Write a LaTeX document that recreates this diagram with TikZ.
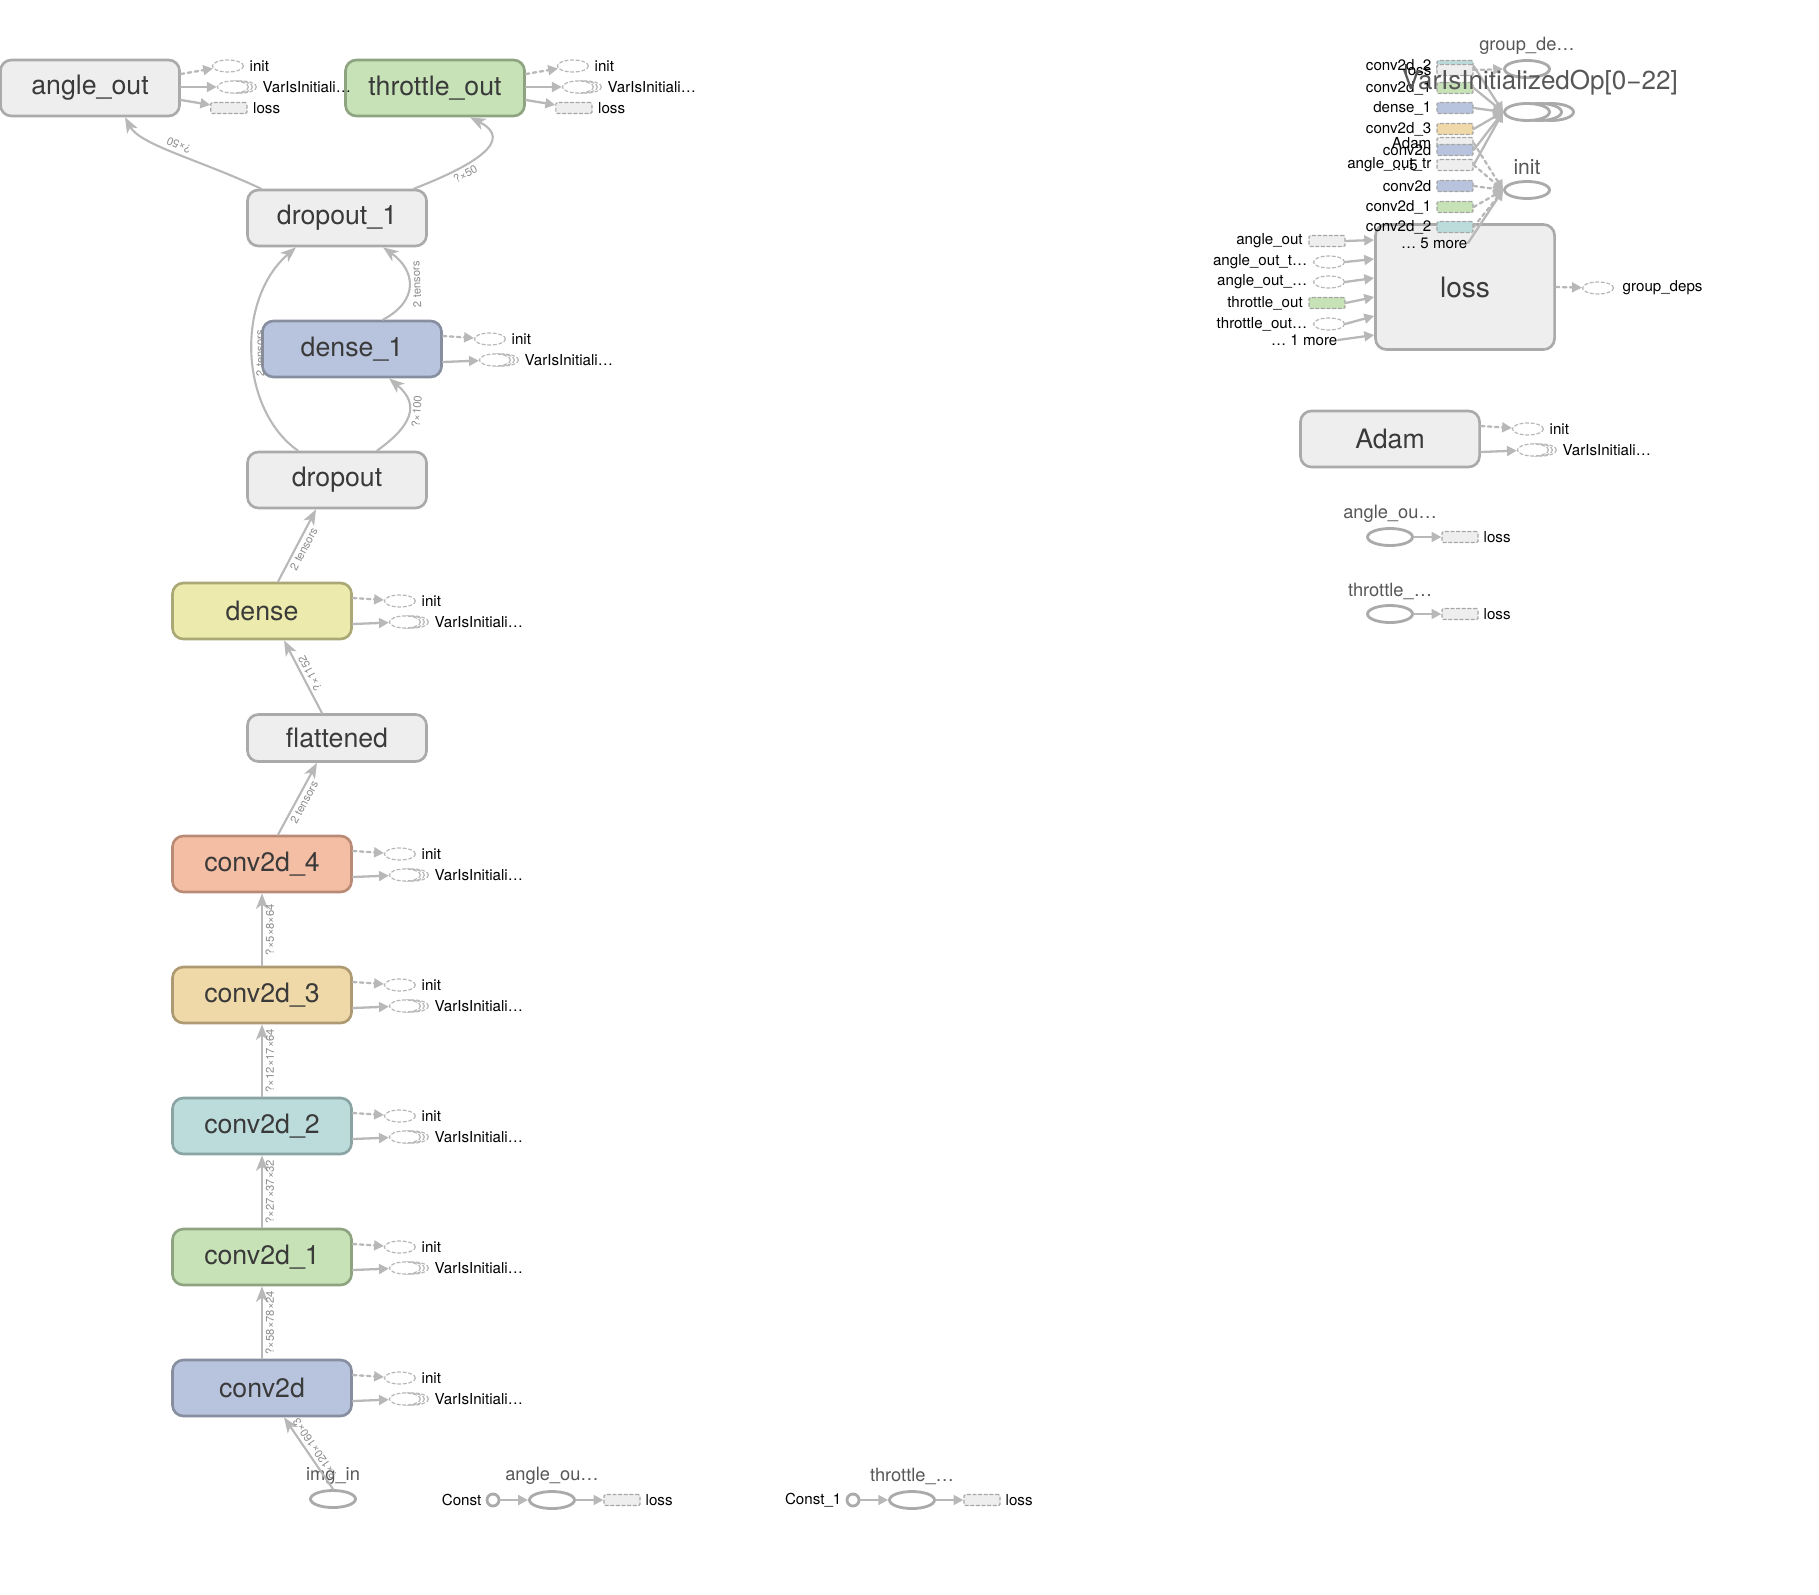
\documentclass[tikz,border=0pt]{standalone}
\usepackage{fontspec}
\setmainfont{TeX Gyre Heros}
\usetikzlibrary{arrows.meta,shapes.geometric}

\definecolor{gfill}{HTML}{EEEEEE}
\definecolor{gline}{HTML}{AAAAAA}
\definecolor{bfill}{HTML}{B8C4DD}
\definecolor{bline}{HTML}{868EA0}
\definecolor{grfill}{HTML}{C6E2B6}
\definecolor{grline}{HTML}{8EA380}
\definecolor{tfill}{HTML}{BCDCDC}
\definecolor{tline}{HTML}{8AA3A3}
\definecolor{ofill}{HTML}{F0D9A8}
\definecolor{oline}{HTML}{AD9A73}
\definecolor{sfill}{HTML}{F4BEA4}
\definecolor{sline}{HTML}{B98B76}
\definecolor{yfill}{HTML}{ECEBAD}
\definecolor{yline}{HTML}{AAA875}
\definecolor{edgegrey}{HTML}{B8B8B8}
\definecolor{optext}{HTML}{3A3A3A}

% init + VarIsInitiali... stubs beside an op box
\newcommand{\initvars}[5]{%
  \node[stub] (#1-init) at ([shift={(47,#2)}]#1.east) {};
  \node[satlbl] (#1-initlbl) at ([xshift=0.05cm]#1-init.east) {init};
  \foreach \s in {8,4}
    \node[stub] (#1-var\s) at ([shift={(52+\s,#3)}]#1.east) {};
  \node[stub] (#1-var) at ([shift={(52,#3)}]#1.east) {};
  \node[satlbl] (#1-varlbl) at ([xshift=0.13cm]#1-var.east) {VarIsInitiali…};
  \draw[ctrlarrow] ([shift={(0,#4)}]#1.east) -- (#1-init);
  \draw[inarrow] ([shift={(0,#5)}]#1.east) -- (#1-var);
}

\begin{document}
\begin{tikzpicture}[
    x=0.01cm, y=-0.01cm,
    line cap=round,
    op/.style 2 args={draw=#2, fill=#1, rounded corners=0.11cm, line width=0.75pt,
      minimum width=1.79cm, minimum height=0.56cm, inner sep=0pt, text=optext,
      font=\fontsize{7.6}{9}\selectfont},
    opgrey/.style={op={gfill}{gline}},
    opblue/.style={op={bfill}{bline}},
    opgreen/.style={op={grfill}{grline}},
    opteal/.style={op={tfill}{tline}},
    opsand/.style={op={ofill}{oline}},
    opsalmon/.style={op={sfill}{sline}},
    opyellow/.style={op={yfill}{yline}},
    dataflow/.style={draw=edgegrey, line width=0.6pt,
      -{Stealth[length=4.4pt,width=3.4pt,inset=1.2pt]}},
    shapelbl/.style={sloped, allow upside down, below=0.4pt, inner sep=0.3pt,
      font=\fontsize{3.2}{4}\selectfont, text=black!45},
    stub/.style={ellipse, draw=black!28, dash pattern=on 0.9pt off 0.7pt, line width=0.35pt,
      minimum width=0.31cm, minimum height=0.12cm, inner sep=0pt, fill=white},
    stubbox/.style={rectangle, draw=black!35, dash pattern=on 0.9pt off 0.7pt, line width=0.35pt,
      fill=#1, minimum width=0.36cm, minimum height=0.11cm, inner sep=0pt, rounded corners=0.4pt},
    satlbl/.style={anchor=west, inner sep=0pt, font=\fontsize{4.3}{5}\selectfont},
    ctrlarrow/.style={draw=edgegrey, line width=0.65pt, dash pattern=on 1pt off 1pt,
      -{Triangle[length=2.8pt,width=2.8pt]}},
    inarrow/.style={draw=edgegrey, line width=0.65pt, -{Triangle[length=2.8pt,width=2.8pt]}},
    const/.style={ellipse, draw=gline, line width=0.8pt, minimum width=0.45cm,
      minimum height=0.17cm, inner sep=0pt, fill=white},
    grplbl/.style={font=\fontsize{5.2}{6}\selectfont, text=optext!85, inner sep=0pt}
  ]
  \useasboundingbox (0,0) rectangle (1819,1594);

  % main stack
  \node[opgrey] (angleout) at (90,88) {angle\_out};
  \node[opgreen] (throttleout) at (435,88) {throttle\_out};
  \node[opgrey] (dropout1) at (337,218) {dropout\_1};
  \node[opblue] (dense1) at (352,349) {dense\_1};
  \node[opgrey] (dropout) at (337,480) {dropout};
  \node[opyellow] (dense) at (262,611) {dense};
  \node[opgrey, minimum height=0.47cm] (flattened) at (337,738) {flattened};
  \node[opsalmon] (conv4) at (262,864) {conv2d\_4};
  \node[opsand] (conv3) at (262,995) {conv2d\_3};
  \node[opteal] (conv2) at (262,1126) {conv2d\_2};
  \node[opgreen] (conv1) at (262,1257) {conv2d\_1};
  \node[opblue] (conv0) at (262,1388) {conv2d};
  \node[const] (imgin) at (333,1499) {};
  \node[grplbl] (imginlbl) at (333,1476) {img\_in};

  % tensors
  \draw[dataflow] (imgin.north) -- node[shapelbl] {?×120×160×3} ([xshift=0.22cm]conv0.south);
  \foreach \a/\b/\t in {conv0/conv1/?×58×78×24, conv1/conv2/?×27×37×32,
                        conv2/conv3/?×12×17×64, conv3/conv4/?×5×8×64}
    \draw[dataflow] (\a) -- node[shapelbl] {\t} (\b);
  \draw[dataflow] ([xshift=0.16cm]conv4.north) -- node[shapelbl] {2 tensors} ([xshift=-0.2cm]flattened.south);
  \draw[dataflow] ([xshift=-0.15cm]flattened.north) -- node[shapelbl] {?×1152} ([xshift=0.22cm]dense.south);
  \draw[dataflow] ([xshift=0.16cm]dense.north) -- node[shapelbl] {2 tensors} ([xshift=-0.21cm]dropout.south);
  \draw[dataflow] ([xshift=0.4cm]dropout.north) .. controls (420,420) and (415,400) ..
    node[shapelbl] {?×100} ([xshift=0.37cm]dense1.south);
  \draw[dataflow] ([xshift=-0.39cm]dropout.north) .. controls (240,410) and (235,300) ..
    node[shapelbl] {2 tensors} ([xshift=-0.41cm]dropout1.south);
  \draw[dataflow] ([xshift=0.31cm]dense1.north) .. controls (420,300) and (415,270) ..
    node[shapelbl] {2 tensors} ([xshift=0.46cm]dropout1.south);
  \draw[dataflow] ([xshift=-0.76cm]dropout1.north) .. controls (200,160) and (140,145) ..
    node[shapelbl] {?×50} ([xshift=0.35cm]angleout.south);
  \draw[dataflow] ([xshift=0.77cm]dropout1.north) .. controls (475,165) and (515,140) ..
    node[shapelbl, pos=0.3] {?×50} ([xshift=0.35cm]throttleout.south);

  % satellites
  \foreach \n in {dense1,dense,conv4,conv3,conv2,conv1,conv0} {
    \initvars{\n}{-10}{11}{-13}{13}
  }
  \foreach \n in {angleout,throttleout} {
    \initvars{\n}{-22}{-1}{-14}{-1}
    \node[stubbox=gfill] (\n-loss) at ([shift={(48,20)}]\n.east) {};
    \node[satlbl] (\n-losslbl) at ([xshift=0.05cm]\n-loss.east) {loss};
    \draw[inarrow] ([shift={(0,12)}]\n.east) -- (\n-loss);
  }

  % bottom constants
  \node[circle, draw=gline, line width=0.8pt, minimum size=0.12cm, inner sep=0pt] (const0) at (493,1500) {};
  \node[satlbl, anchor=east] (const0lbl) at (482,1500) {Const};
  \node[const] (anglecst) at (552,1500) {};
  \node[grplbl] (anglecstlbl) at (552,1476) {angle\_ou…};
  \node[stubbox=gfill] (anglecstloss) at (622,1500) {};
  \node[satlbl] (anglecstlosslbl) at (645,1500) {loss};
  \node[circle, draw=gline, line width=0.8pt, minimum size=0.12cm, inner sep=0pt] (const1) at (853,1500) {};
  \node[satlbl, anchor=east] (const1lbl) at (842,1500) {Const\_1};
  \node[const] (throttlecst) at (912,1500) {};
  \node[grplbl] (throttlecstlbl) at (912,1476) {throttle\_…};
  \node[stubbox=gfill] (throttlecstloss) at (982,1500) {};
  \node[satlbl] (throttlecstlosslbl) at (1005,1500) {loss};
  \draw[inarrow] (const0) -- (anglecst);
  \draw[inarrow] (anglecst) -- (anglecstloss);
  \draw[inarrow] (const1) -- (throttlecst);
  \draw[inarrow] (throttlecst) -- (throttlecstloss);

  % right side: loss
  \node[opgrey, minimum height=1.25cm, font=\fontsize{8}{9}\selectfont] (loss) at (1465,287) {loss};
  \node[stubbox=gfill] (lin1) at (1327,241) {};
  \node[stub] (lin2) at (1329,262) {};
  \node[stub] (lin3) at (1329,282) {};
  \node[stubbox=grfill] (lin4) at (1327,303) {};
  \node[stub] (lin5) at (1329,324) {};
  \node[satlbl, anchor=east] (lin6) at (1338,340) {… 1 more};
  \foreach \n/\t in {lin1/angle\_out, lin2/angle\_out\_t…, lin3/angle\_out\_…,
                     lin4/throttle\_out, lin5/throttle\_out…}
    \node[satlbl, anchor=east] (\n-lbl) at ([xshift=-0.05cm]\n.west) {\t};
  \foreach \n/\d in {lin1/-47, lin2/-28, lin3/-9, lin4/10, lin5/29, lin6/48}
    \draw[inarrow] (\n.east) -- ([shift={(0,\d)}]loss.west);
  \node[stub] (gdeps) at (1598,288) {};
  \node[satlbl] (gdepslbl) at (1622,288) {group\_deps};
  \draw[ctrlarrow] (loss.east) -- (gdeps);

  % right side: init / VarIsInitializedOp cluster
  \node[const] (grpdeps) at (1527,69) {};
  \node[grplbl] (grpdepslbl) at (1527,46) {group\_de…};
  \node[const] (varop3) at (1551,112) {};
  \node[const] (varop2) at (1539,112) {};
  \node[const] (varop) at (1527,112) {};
  \node[const] (initop) at (1527,190) {};
  \node[grplbl, font=\fontsize{6}{7}\selectfont] (initoplbl) at (1527,167) {init};
  \foreach \n/\y/\c/\t in {r1/66/tfill/conv2d\_2, r2/70/gfill/loss, r3/88/grfill/conv2d\_1,
      r4/108/bfill/dense\_1, r5/129/ofill/conv2d\_3, r6/143/gfill/Adam, r7/150/bfill/conv2d,
      r8/165/gfill/angle\_out\_tr, r9/186/bfill/conv2d, r10/207/grfill/conv2d\_1,
      r11/227/tfill/conv2d\_2} {
    \node[stubbox=\c] (\n) at (1455,\y) {};
    \node[satlbl, anchor=east] (\n-lbl) at (1432,\y) {\t};
  }
  \node[satlbl] (fivelbl) at (1391,165) {…\,5};
  \node[satlbl, anchor=east] (fivemore) at (1468,243) {… 5 more};
  \foreach \n in {r1,r3,r4,r5,r7,r8}
    \draw[inarrow] (\n.east) -- (varop.west);
  \draw[ctrlarrow] (r2.east) -- (grpdeps.west);
  \foreach \n in {r6,r8,r9,r10,r11}
    \draw[ctrlarrow] (\n.east) -- (initop.west);
  \draw[inarrow] (fivemore.east) -- (initop.west);
  \node[grplbl, font=\fontsize{7.4}{9}\selectfont] (varoplbl) at (1540,83) {VarIsInitializedOp[0−22]};

  % Adam and the two loss constants
  \node[opgrey] (adam) at (1390,439) {Adam};
  \initvars{adam}{-10}{11}{-13}{13}
  \node[const] (anglesub) at (1390,537) {};
  \node[grplbl] (anglesublbl) at (1390,514) {angle\_ou…};
  \node[stubbox=gfill] (anglesubloss) at (1460,537) {};
  \node[satlbl] (anglesublosslbl) at (1483,537) {loss};
  \draw[inarrow] (anglesub) -- (anglesubloss);
  \node[const] (throttlesub) at (1390,614) {};
  \node[grplbl] (throttlesublbl) at (1390,591) {throttle\_…};
  \node[stubbox=gfill] (throttlesubloss) at (1460,614) {};
  \node[satlbl] (throttlesublosslbl) at (1483,614) {loss};
  \draw[inarrow] (throttlesub) -- (throttlesubloss);
\end{tikzpicture}
\end{document}
